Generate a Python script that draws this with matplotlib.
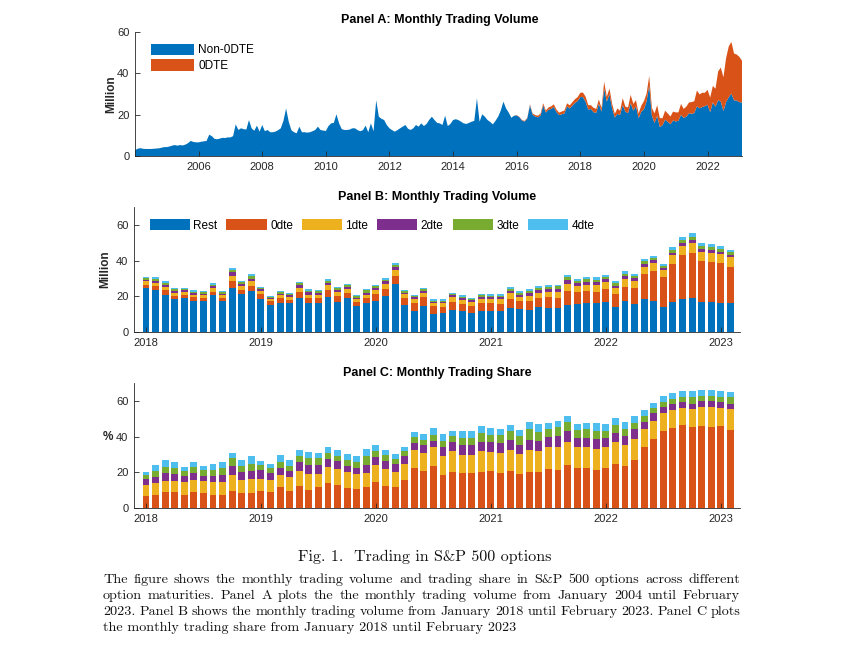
import numpy as np
import matplotlib
matplotlib.use("Agg")
import matplotlib.pyplot as plt
from matplotlib.patches import Patch

plt.rcParams['font.family'] = ['Liberation Sans', 'DejaVu Sans']

# ---------------- data ----------------
# Panel A: monthly volume (million), Jan 2004 - Dec 2017 (non-0DTE and 0DTE)
nondte_2004_2017 = [
    2.8, 3.5, 3.8, 3.5, 3.4, 3.4, 3.4, 3.5, 3.6, 3.7, 4.0, 4.3,
    4.3, 4.6, 5.0, 5.3, 5.0, 5.3, 5.1, 5.5, 6.2, 7.3, 6.8, 6.6,
    6.6, 6.9, 7.1, 7.3, 10.3, 9.6, 8.3, 8.1, 8.4, 8.8, 8.7, 9.0,
    9.0, 9.6, 15.3, 12.6, 13.4, 13.0, 12.8, 17.4, 13.4, 12.2, 14.7, 11.8,
    15.0, 12.0, 12.6, 11.5, 11.5, 11.8, 12.5, 13.4, 17.0, 23.0, 16.6, 12.5,
    11.5, 11.0, 14.2, 11.5, 11.5, 11.3, 11.5, 12.0, 12.6, 14.2, 12.6, 12.3,
    12.1, 14.5, 15.8, 16.0, 20.2, 15.8, 13.0, 12.6, 12.6, 12.8, 13.4, 13.4,
    12.5, 12.0, 12.5, 14.7, 11.5, 15.8, 12.0, 27.0, 19.0, 18.0, 17.4, 15.0,
    13.4, 12.5, 11.8, 12.5, 13.4, 14.2, 15.0, 13.2, 12.6, 13.4, 15.0, 14.2,
    15.8, 14.5, 15.5, 17.5, 19.0, 17.4, 16.0, 15.8, 15.0, 19.5, 14.5, 15.5,
    17.4, 17.8, 17.4, 16.6, 15.8, 15.5, 16.0, 16.6, 17.0, 27.9, 16.6, 20.2,
    19.0, 17.4, 16.5, 15.3, 17.0, 19.0, 22.0, 26.3, 23.0, 21.0, 18.5, 19.5,
    19.6, 18.8, 17.1, 16.7, 18.2, 24.5, 20.0, 19.1, 18.7, 19.6, 24.5, 21.0,
    22.4, 22.8, 23.7, 21.3, 19.8, 20.2, 20.6, 24.0, 23.0, 24.4, 25.7, 26.6,
]
zdte_2004_2017 = [0.0] * 144 + [
    0.2, 0.2, 0.3, 0.3, 0.3, 0.5, 0.6, 0.7, 0.8, 0.9, 1.0, 1.0,
    1.1, 1.2, 1.3, 1.2, 1.2, 1.3, 1.4, 1.5, 1.5, 1.6, 1.8, 1.9,
]

# Panels B/C: Jan 2018 - Feb 2023, total monthly volume (million)
total_B = [
    30.6, 30.7, 28.7, 24.6, 24.6, 23.3, 22.8, 27.4, 23.1, 35.9, 28.7, 32.6,
    25.4, 20.4, 23.0, 21.9, 28.0, 23.9, 23.5, 29.6, 25.2, 27.0, 20.6, 24.3,
    26.5, 30.2, 38.7, 23.3, 20.6, 24.6, 18.3, 18.3, 21.9, 20.6, 19.1, 21.5,
    21.1, 21.1, 25.2, 22.8, 23.9, 25.9, 26.1, 26.5, 31.7, 29.8, 30.6, 30.6,
    32.0, 28.3, 33.9, 32.6, 40.9, 42.8, 38.1, 47.4, 53.0, 55.2, 49.6, 49.1,
    48.0, 46.1,
]
# trading shares (%) by maturity
share_0dte = [
    6.8, 7.2, 8.7, 8.7, 7.5, 9.0, 8.3, 7.5, 7.2, 9.4, 8.3, 8.3,
    9.4, 8.7, 11.5, 9.4, 12.1, 10.2, 11.7, 13.8, 12.8, 11.3, 10.9, 11.7,
    14.7, 12.3, 11.9, 15.8, 22.6, 20.8, 23.4, 18.5, 20.0, 19.6, 19.6, 20.0,
    20.8, 19.4, 20.8, 19.2, 20.4, 20.0, 21.9, 21.5, 24.2, 22.6, 22.6, 21.1,
    22.6, 24.9, 23.4, 26.8, 34.0, 38.5, 43.0, 44.9, 46.4, 45.3, 45.7, 45.3,
    45.7, 43.8,
]
share_1dte = [
    6.0, 6.6, 6.6, 6.4, 7.2, 6.7, 6.8, 7.2, 7.5, 9.1, 7.4, 7.9,
    6.8, 7.0, 7.0, 7.8, 8.7, 8.7, 7.5, 9.4, 9.1, 8.7, 8.0, 7.9,
    9.5, 9.6, 8.1, 8.7, 9.9, 10.0, 10.6, 10.4, 11.7, 10.2, 10.2, 11.7,
    10.5, 11.4, 11.8, 11.0, 12.2, 12.0, 12.4, 12.5, 12.8, 11.4, 11.4, 11.7,
    11.4, 12.1, 12.1, 12.1, 10.3, 10.5, 10.2, 10.2, 9.8, 10.2, 10.9, 11.3,
    10.5, 11.7,
]
share_2dte = [
    3.2, 3.7, 4.1, 4.1, 3.4, 4.1, 2.6, 3.4, 3.8, 5.3, 4.3, 4.6,
    5.1, 3.9, 4.0, 3.4, 4.7, 5.1, 4.8, 4.3, 4.5, 3.8, 3.7, 4.6,
    4.1, 4.5, 4.5, 4.4, 3.9, 4.3, 3.7, 5.1, 5.3, 5.7, 5.7, 5.3,
    5.7, 5.6, 5.7, 5.3, 5.7, 5.8, 5.3, 6.2, 6.0, 5.2, 5.2, 6.1,
    5.2, 5.0, 4.9, 5.1, 4.0, 4.2, 3.4, 3.0, 3.0, 3.0, 3.4, 3.4,
    3.0, 3.0,
]
share_3dte = [
    2.5, 3.3, 3.8, 3.4, 2.7, 3.0, 3.4, 3.4, 3.8, 4.1, 3.4, 4.1,
    2.9, 2.7, 3.5, 2.8, 3.9, 3.9, 3.9, 3.4, 3.0, 3.2, 3.4, 5.2,
    3.7, 3.4, 3.0, 2.8, 3.2, 3.2, 3.4, 3.7, 3.2, 3.7, 3.7, 5.0,
    4.1, 4.4, 4.7, 4.7, 5.7, 4.8, 4.7, 5.1, 5.3, 4.6, 4.8, 4.5,
    3.8, 4.4, 4.1, 3.7, 3.4, 3.0, 3.0, 3.0, 3.1, 3.4, 3.0, 3.0,
    3.1, 3.4,
]
share_4dte = [
    1.5, 3.2, 3.8, 3.1, 2.2, 3.2, 2.7, 3.4, 3.2, 2.7, 3.4, 4.0,
    2.2, 2.6, 3.6, 3.4, 2.9, 3.4, 3.0, 3.4, 2.9, 3.2, 3.4, 3.8,
    3.1, 2.7, 2.7, 2.3, 3.0, 3.2, 3.8, 3.8, 3.2, 3.8, 3.8, 3.7,
    3.8, 3.4, 3.4, 3.6, 3.9, 4.2, 3.4, 3.7, 3.2, 3.4, 3.5, 4.0,
    3.8, 3.8, 3.8, 3.6, 3.2, 2.8, 3.2, 3.1, 3.0, 3.4, 3.0, 3.0,
    3.4, 3.0,
]
year_ticks_A = [2006, 2008, 2010, 2012, 2014, 2016, 2018, 2020, 2022]
year_labels_B = ['2018', '2019', '2020', '2021', '2022', '2023']
legend_B = ['Rest', '0dte', '1dte', '2dte', '3dte', '4dte']

# ---------------- derived ----------------
tot = np.array(total_B)
shares = np.array([share_0dte, share_1dte, share_2dte, share_3dte, share_4dte])
vol_dte = tot[None, :] * shares / 100.0
vol_rest = tot - vol_dte.sum(axis=0)

zdte_A = np.concatenate([zdte_2004_2017, vol_dte[0]])
non_A = np.concatenate([nondte_2004_2017, tot - vol_dte[0]])
tA = 2004 + np.arange(len(non_A)) / 12.0

# ---------------- style ----------------
C_BLUE = '#0072BD'
C_ORANGE = '#D95319'
C_YELLOW = '#EDB120'
C_PURPLE = '#7E2F8E'
C_GREEN = '#77AC30'
C_CYAN = '#4DBEEE'
dte_colors = [C_ORANGE, C_YELLOW, C_PURPLE, C_GREEN, C_CYAN]
DARK = '#262626'

W, H = 850, 652
fig = plt.figure(figsize=(W / 100, H / 100), dpi=100)
fig.patch.set_facecolor('white')


def px(l, t, r, b):
    return [l / W, 1 - b / H, (r - l) / W, (b - t) / H]


def style(ax):
    for s in ['top', 'right']:
        ax.spines[s].set_visible(False)
    for s in ['left', 'bottom']:
        ax.spines[s].set_color(DARK)
        ax.spines[s].set_linewidth(0.6)
    ax.tick_params(direction='in', length=3.5, width=0.6, colors=DARK,
                   labelsize=8, pad=4)


axA = fig.add_axes(px(135, 32, 742, 156))
axB = fig.add_axes(px(134, 207, 740, 332))
axC = fig.add_axes(px(134, 383, 740, 508))

# Panel A
axA.stackplot(tA, non_A, zdte_A, colors=[C_BLUE, C_ORANGE], linewidth=0)
axA.set_xlim(2004, tA[-1])
axA.set_ylim(0, 60)
axA.set_yticks([0, 20, 40, 60])
axA.set_xticks(year_ticks_A)
axA.set_xticklabels([str(y) for y in year_ticks_A])
style(axA)
axA.set_ylabel('Million', fontsize=8.5, fontweight='bold', color=DARK)
axA.yaxis.set_label_coords(-0.03, 0.5)
axA.legend([Patch(facecolor=C_BLUE), Patch(facecolor=C_ORANGE)],
           ['Non-0DTE', '0DTE'], loc='upper left',
           bbox_to_anchor=(0.027, 0.905), frameon=False, fontsize=8.5,
           handlelength=3.6, handleheight=1.1, handletextpad=0.35,
           labelspacing=0.25, borderpad=0, borderaxespad=0)

# Panel B
x = np.arange(len(tot))
bw = 0.72
bottom = np.zeros(len(tot))
axB.bar(x, vol_rest, bw, bottom=bottom, color=C_BLUE, linewidth=0)
bottom = bottom + vol_rest
for i in range(5):
    axB.bar(x, vol_dte[i], bw, bottom=bottom, color=dte_colors[i], linewidth=0)
    bottom = bottom + vol_dte[i]
axB.set_xlim(-1.25, 62.0)
axB.set_ylim(0, 70)
axB.set_yticks([0, 20, 40, 60])
axB.set_xticks(np.arange(0, 61, 12))
axB.set_xticklabels(year_labels_B)
style(axB)
axB.set_ylabel('Million', fontsize=8.5, fontweight='bold', color=DARK)
axB.yaxis.set_label_coords(-0.038, 0.5)
axB.legend([Patch(facecolor=c) for c in [C_BLUE] + dte_colors], legend_B,
           loc='upper left', bbox_to_anchor=(0.026, 0.905), ncol=6,
           frameon=False, fontsize=8.5, handlelength=3.4, handleheight=1.1,
           handletextpad=0.3, columnspacing=0.75, borderpad=0, borderaxespad=0)

# Panel C
bottom = np.zeros(len(tot))
for i in range(5):
    axC.bar(x, shares[i], bw, bottom=bottom, color=dte_colors[i], linewidth=0)
    bottom = bottom + shares[i]
axC.set_xlim(-1.25, 62.0)
axC.set_ylim(0, 70)
axC.set_yticks([0, 20, 40, 60])
axC.set_xticks(np.arange(0, 61, 12))
axC.set_xticklabels(year_labels_B)
style(axC)
axC.set_ylabel('%', fontsize=8.5, fontweight='bold', color=DARK, rotation=0,
               va='center', ha='center')
axC.yaxis.set_label_coords(-0.043, 0.565)

# Panel titles
fig.text(440 / W, 1 - 20 / H, 'Panel A: Monthly Trading Volume', ha='center',
         va='center', fontsize=9, fontweight='bold', color='black')
fig.text(437 / W, 1 - 197 / H, 'Panel B: Monthly Trading Volume', ha='center',
         va='center', fontsize=9, fontweight='bold', color='black')
fig.text(437 / W, 1 - 373 / H, 'Panel C: Monthly Trading Share', ha='center',
         va='center', fontsize=9, fontweight='bold', color='black')

# Caption
SERIF = ['cmr10', 'DejaVu Serif']
fig.text(425 / W, 1 - 557 / H, 'Fig. 1.  Trading in S&P 500 options', ha='center',
         va='center', fontsize=11.5, family=SERIF, color='#111111')

cap_lines = [
    "The figure shows the monthly trading volume and trading share in S&P 500 options across different",
    "option maturities.  Panel A plots the the monthly trading volume from January 2004 until February",
    "2023. Panel B shows the monthly trading volume from January 2018 until February 2023. Panel C plots",
    "the monthly trading share from January 2018 until February 2023",
]
cap_y = [580, 596, 612, 628]
x0, x1 = 103, 740
CAP_FS = 10.2
renderer = fig.canvas.get_renderer()
for li, (line, yy) in enumerate(zip(cap_lines, cap_y)):
    if li == len(cap_lines) - 1:
        fig.text(x0 / W, 1 - yy / H, line, ha='left', va='center', fontsize=CAP_FS,
                 family=SERIF, color='#111111')
        continue
    words = line.split()
    objs = [fig.text(0, 1 - yy / H, w_, ha='left', va='center', fontsize=CAP_FS,
                     family=SERIF, color='#111111') for w_ in words]
    widths = [o.get_window_extent(renderer).width for o in objs]
    gap = (x1 - x0 - sum(widths)) / (len(words) - 1)
    xp = x0
    for o, wd in zip(objs, widths):
        o.set_x(xp / W)
        xp += wd + gap

fig.savefig('out.png', dpi=100, facecolor='white')
